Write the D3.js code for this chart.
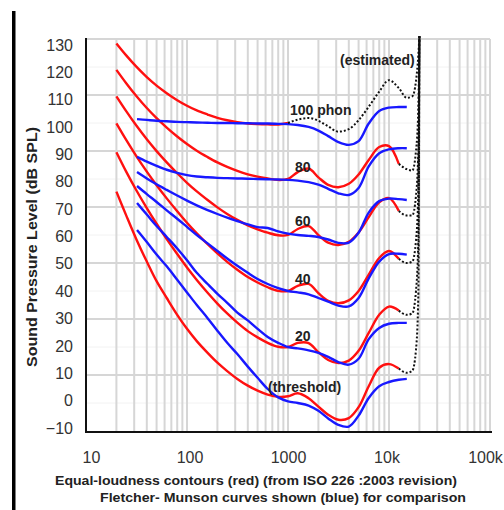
<!DOCTYPE html>
<html><head><meta charset="utf-8">
<script src="https://cdn.jsdelivr.net/npm/d3@7"></script>
<style>html,body{margin:0;padding:0;background:#fff;}svg{display:block;}</style>
</head><body>
<script>
// ---------- data ----------
const isoFreq = [20,25,31.5,40,50,63,80,100,125,160,200,250,315,400,500,630,800,1000,1250,1600,2000,2500,3150,4000,5000,6300,8000,10000,12500];
const red0   = [75.5,67.0,58.5,50.5,43.5,37.5,31.5,26.5,22.1,17.9,14.4,11.4,8.6,6.2,4.4,3.0,2.2,2.4,3.5,1.7,-1.3,-4.2,-6.0,-5.4,-1.5,6.0,12.6,13.9,12.3];
const red20  = [89.58,82.65,75.98,69.62,64.02,58.55,53.19,48.38,43.94,39.37,35.51,31.99,28.69,25.67,23.43,21.48,20.10,20.00,21.46,21.40,18.15,15.38,14.25,15.14,18.63,25.02,31.52,34.43,33.04];
const red40  = [99.85,93.94,88.17,82.63,77.78,73.08,68.48,64.37,60.59,56.70,53.41,50.40,47.58,44.98,43.05,41.34,40.06,40.01,41.82,42.51,39.23,36.51,35.61,36.65,40.01,45.83,51.80,54.28,51.49];
const red60  = [109.51,104.23,99.08,94.18,89.96,85.94,82.05,78.65,75.56,72.48,69.87,67.53,65.39,63.45,62.05,60.82,59.89,60.01,62.15,63.19,59.96,57.26,56.42,57.57,60.89,66.36,71.66,73.16,68.63];
const red80  = [118.99,114.23,109.65,105.34,101.72,98.36,95.17,92.48,90.09,87.82,85.92,84.31,82.89,81.68,80.86,80.17,79.67,80.01,82.48,83.74,80.59,77.88,77.07,78.31,81.62,86.81,91.41,91.74,85.41];
const red100 = [128.41,124.15,120.11,116.38,113.35,110.65,108.16,106.17,104.48,103.03,101.85,100.97,100.30,99.83,99.62,99.50,99.44,100.01];

const fmFreq = [32,40,50,63,80,100,125,160,200,250,315,400,500,630,800,1000,1250,1600,2000,2500,3150,4000,5000,6300,8000,10000,12500,15000];
const blue0   = [61.8,57.5,53.0,48.8,44.0,39.5,35.0,30.3,25.8,21.5,17.5,13.0,9.0,5.0,2.0,0.6,0.0,-0.9,-2.8,-5.5,-7.8,-8.4,-4.5,1.8,6.0,7.5,8.3,8.6];
const blue20  = [71.4,67.3,63.2,59.3,55.2,51.0,46.5,42.5,39.0,35.8,32.3,29.5,26.5,23.6,21.5,20.0,19.5,18.8,17.9,16.5,14.6,13.7,15.8,22.8,26.8,28.3,28.6,28.6];
const blue40  = [77.5,74.6,71.8,68.8,65.8,62.9,60.0,57.0,54.3,51.6,49.0,46.5,44.3,42.5,41.0,40.0,39.5,38.8,37.5,36.2,34.8,34.5,37.5,44.5,50.5,53.2,53.3,53.0];
const blue60  = [82.5,80.2,78.1,76.1,74.1,72.3,70.6,68.9,67.5,66.2,65.0,63.8,62.8,62.5,61.3,60.5,60.0,59.7,59.3,58.4,57.2,57.3,60.8,68.0,72.1,73.0,72.8,72.5];
const blue80  = [87.9,86.2,84.7,83.3,82.2,81.4,80.9,80.6,80.4,80.3,80.2,80.1,80.0,79.9,79.8,79.7,79.4,78.9,78.0,76.5,74.9,74.3,76.8,84.5,89.2,90.6,91.0,91.0];
const blue100 = [101.4,101.1,100.8,100.6,100.4,100.3,100.2,100.1,100.0,100.0,99.9,99.9,99.8,99.8,99.7,99.6,99.3,98.6,97.3,95.3,93.2,92.2,93.5,99.8,104.3,105.5,105.7,105.7];

// estimated (dotted) extensions
const estFreq100 = [1000,1250,1600,2000,2500,3150,4000,5000,6300,8000,10000,12500,15000,17000,18500,19500,20000];
const est100     = [100.0,101.2,101.8,100.8,98.8,96.9,97.8,101.0,105.8,111.2,115.3,112.5,109.0,109.5,115.0,124.0,131.0];
const estFreqTail = [12500,15000,17000,18500,19500,20000];
const est80 = [85.4,83.5,83.0,90.0,105.0,131.0];
const est60 = [68.6,67.0,67.0,74.0,90.0,131.0];
const est40 = [51.5,50.0,50.5,58.0,75.0,131.0];
const est20 = [33.0,31.5,32.0,40.0,58.0,131.0];
const est0  = [12.3,10.8,11.5,19.0,38.0,131.0];

const xTickVals = [10,100,1000,10000,100000];
const xTickLabels = ["10","100","1000","10k","100k"];
const yTickVals = [130,120,110,100,90,80,70,60,50,40,30,20,10,0,-10];

const contourLabels = ["100 phon","80","60","40","20","(threshold)","(estimated)"];
const yTitle = "Sound Pressure Level (dB SPL)";
const caption1 = "Equal-loudness contours (red) (from ISO 226 :2003 revision)";
const caption2 = "Fletcher- Munson curves shown (blue) for comparison";

// ---------- drawing ----------
const W = 504, H = 510;
const svg = d3.select("body").append("svg").attr("width", W).attr("height", H);
svg.append("rect").attr("width", W).attr("height", H).attr("fill", "#fff");

const x = d3.scaleLog().domain([10, 100000]).range([86, 490]);
const y = d3.scaleLinear().domain([-10, 130]).range([431, 39]);
const xLab = d3.scaleLog().domain([10, 100000]).range([91, 485]);
const yLab = d3.scaleLinear().domain([-10, 130]).range([428, 45]);

// left black bar
svg.append("rect").attr("x", 12).attr("y", 11).attr("width", 3.5).attr("height", 500).attr("fill", "#000");

// grid
const grid = svg.append("g");
const minorH = [120,100,80,60,40,20,0];
grid.selectAll(".hm").data(minorH).join("line")
  .attr("x1", x(10)).attr("x2", x(100000)).attr("y1", d => y(d)).attr("y2", d => y(d))
  .attr("stroke", "#f2f2f2").attr("stroke-width", 1);
grid.selectAll(".v").data(x.ticks().filter(d => d > 10)).join("line")
  .attr("x1", d => x(d)).attr("x2", d => x(d)).attr("y1", y(130)).attr("y2", y(-10))
  .attr("stroke", "#d6d6d6").attr("stroke-width", 2);
const majorH = [130,110,90,70,50,30,10];
grid.selectAll(".h").data(majorH).join("line")
  .attr("x1", x(10)).attr("x2", x(100000)).attr("y1", d => y(d)).attr("y2", d => y(d))
  .attr("stroke", "#d6d6d6").attr("stroke-width", 2);

// axes lines
svg.append("line").attr("x1", x(10)).attr("x2", x(10)).attr("y1", y(130)-1).attr("y2", y(-10)+2)
  .attr("stroke", "#111").attr("stroke-width", 2);
svg.append("line").attr("x1", x(10)-1).attr("x2", x(100000)+2).attr("y1", y(-10)+1).attr("y2", y(-10)+1)
  .attr("stroke", "#111").attr("stroke-width", 2);

// tick labels via axes
const xAxis = svg.append("g").attr("transform", "translate(0,449)")
  .call(d3.axisBottom(xLab).tickValues(xTickVals).tickFormat((d, i) => xTickLabels[i]).tickSize(0));
xAxis.select(".domain").remove();
xAxis.selectAll("text").attr("font-family", "Liberation Sans, Arial, sans-serif").attr("font-size", 16).attr("fill", "#333");

const yAxis = svg.append("g").attr("transform", "translate(73,0)")
  .call(d3.axisLeft(yLab).tickValues(yTickVals).tickFormat(d3.format("d")).tickSize(0).tickPadding(0));
yAxis.select(".domain").remove();
yAxis.selectAll("text").attr("font-family", "Liberation Sans, Arial, sans-serif").attr("font-size", 16).attr("fill", "#333");

// curves
const line = d3.line().x(d => x(d[0])).y(d => y(d[1])).curve(d3.curveCatmullRom.alpha(0.5));
const lineM = d3.line().x(d => x(d[0])).y(d => y(d[1])).curve(d3.curveMonotoneX);
const zip = (fs, vs) => vs.map((v, i) => [fs[i], v]);

const reds = [red0, red20, red40, red60, red80, red100];
const blues = [blue0, blue20, blue40, blue60, blue80, blue100];
const ests = [est0, est20, est40, est60, est80];

svg.append("g").selectAll("path").data(reds).join("path")
  .attr("d", d => line(zip(isoFreq, d)))
  .attr("fill", "none").attr("stroke", "#ff1010").attr("stroke-width", 2.4);
svg.append("g").selectAll("path").data(blues).join("path")
  .attr("d", d => line(zip(fmFreq, d)))
  .attr("fill", "none").attr("stroke", "#1818ff").attr("stroke-width", 2.4);
const dot = svg.append("g").attr("fill", "none").attr("stroke", "#111").attr("stroke-width", 2).attr("stroke-dasharray", "2,2");
dot.append("path").attr("d", lineM(zip(estFreq100, est100)));
dot.selectAll(".t").data(ests).join("path").attr("d", d => lineM(zip(estFreqTail, d)));

// contour labels
const labPos = [[290,115],[295,172],[295,226],[295,284],[295,341],[268,392],[340,65]];
svg.append("g").selectAll("text").data(contourLabels).join("text")
  .attr("x", (d, i) => labPos[i][0]).attr("y", (d, i) => labPos[i][1])
  .attr("font-family", "Liberation Sans, Arial, sans-serif").attr("font-size", 14).attr("font-weight", "bold")
  .attr("fill", "#222").text(d => d);

// y title
svg.append("text").attr("transform", "translate(37,247) rotate(-90)").attr("text-anchor", "middle")
  .attr("font-family", "Liberation Sans, Arial, sans-serif").attr("font-size", 14).attr("font-weight", "bold")
  .attr("fill", "#222").attr("textLength", 240).attr("lengthAdjust", "spacingAndGlyphs").text(yTitle);

// captions
svg.append("text").attr("x", 256).attr("y", 485).attr("text-anchor", "middle")
  .attr("font-family", "Liberation Sans, Arial, sans-serif").attr("font-size", 13).attr("font-weight", "bold")
  .attr("fill", "#222").attr("textLength", 402).attr("lengthAdjust", "spacingAndGlyphs").text(caption1);
svg.append("text").attr("x", 283).attr("y", 502).attr("text-anchor", "middle")
  .attr("font-family", "Liberation Sans, Arial, sans-serif").attr("font-size", 13).attr("font-weight", "bold")
  .attr("fill", "#222").attr("textLength", 366).attr("lengthAdjust", "spacingAndGlyphs").text(caption2);
</script>
</body></html>
